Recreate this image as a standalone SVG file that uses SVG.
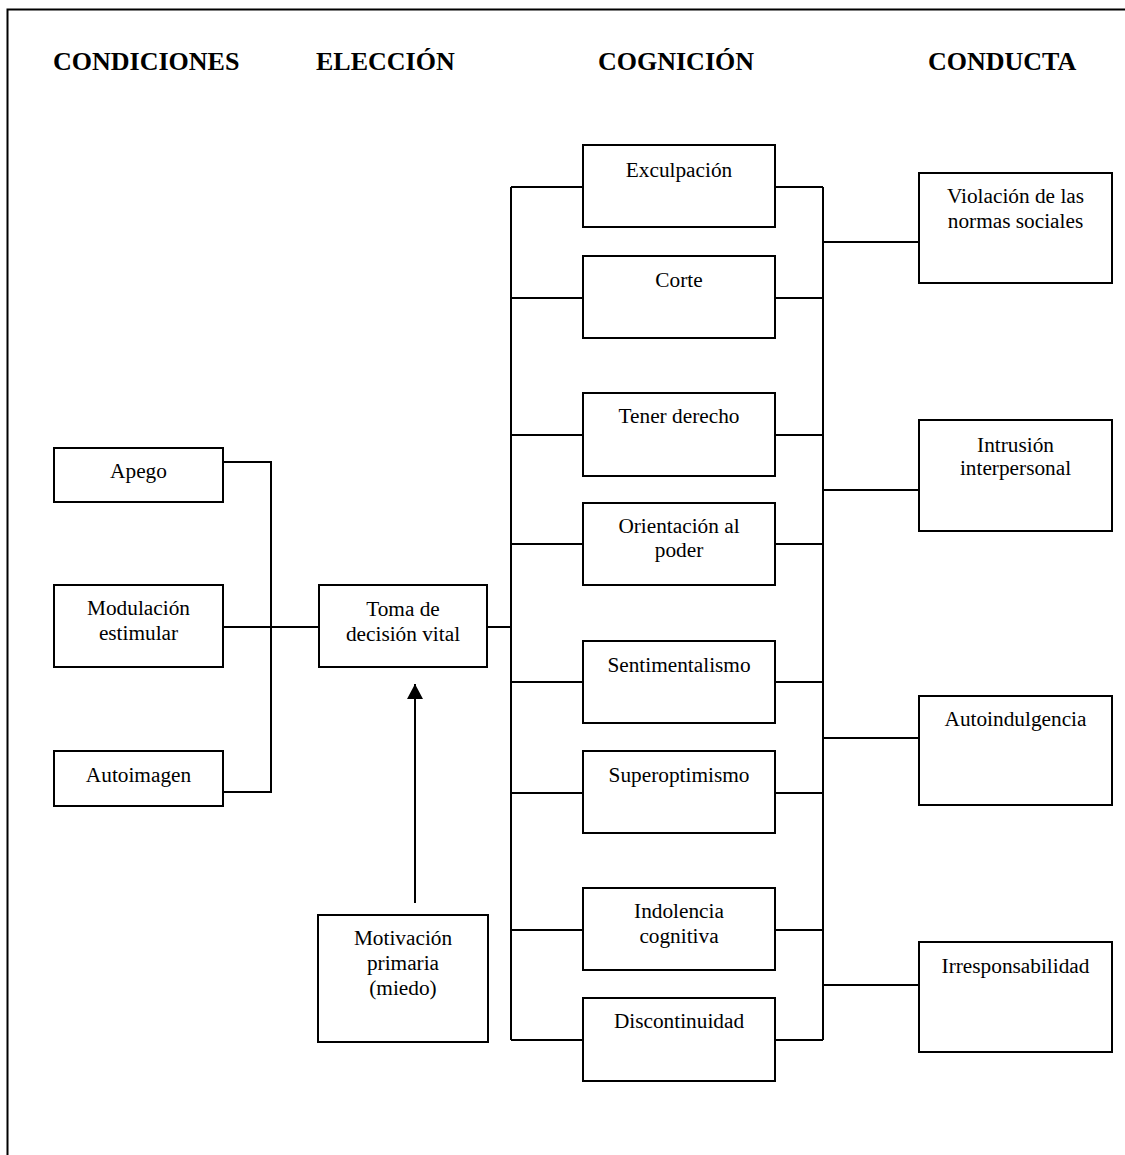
<svg xmlns="http://www.w3.org/2000/svg" width="1125" height="1155" viewBox="0 0 1125 1155">
<style>
.bg{fill:#fff}
.frame{fill:none;stroke:#000;stroke-width:2}
.box{fill:#fff;stroke:#000;stroke-width:2}
.ln{fill:none;stroke:#000;stroke-width:2}
.hd{font-family:"Liberation Serif","Times New Roman",serif;font-weight:bold;font-size:26px;fill:#000}
.t{font-family:"Liberation Serif","Times New Roman",serif;font-size:21.3px;fill:#000;text-anchor:middle}
</style>
<defs>
<marker id="ah" markerWidth="16" markerHeight="16" refX="15" refY="8" orient="auto" markerUnits="userSpaceOnUse">
<path d="M0,0 L15,8 L0,16 Z" fill="#000"/>
</marker>
</defs>
<rect class="bg" x="0" y="0" width="1125" height="1155"/>
<rect class="frame" x="7.5" y="9.5" width="1130" height="1160"/>
<g id="headers">
<text class="hd" x="53" y="70">CONDICIONES</text>
<text class="hd" x="316" y="70">ELECCIÓN</text>
<text class="hd" x="598" y="70">COGNICIÓN</text>
<text class="hd" x="928" y="70">CONDUCTA</text>
</g>
<g id="connectors">
<polyline class="ln" points="223,462 271,462 271,792 223,792"/>
<line class="ln" x1="223" y1="627" x2="319" y2="627"/>
<line class="ln" x1="487" y1="627" x2="511" y2="627"/>
<line class="ln" x1="415" y1="903" x2="415" y2="684" marker-end="url(#ah)"/>
<line class="ln" x1="511" y1="187" x2="511" y2="1040"/>
<line class="ln" x1="823" y1="187" x2="823" y2="1040"/>
<line class="ln" x1="511" y1="187" x2="583" y2="187"/>
<line class="ln" x1="511" y1="298" x2="583" y2="298"/>
<line class="ln" x1="511" y1="435" x2="583" y2="435"/>
<line class="ln" x1="511" y1="544" x2="583" y2="544"/>
<line class="ln" x1="511" y1="682" x2="583" y2="682"/>
<line class="ln" x1="511" y1="793" x2="583" y2="793"/>
<line class="ln" x1="511" y1="930" x2="583" y2="930"/>
<line class="ln" x1="511" y1="1040" x2="583" y2="1040"/>
<line class="ln" x1="775" y1="187" x2="823" y2="187"/>
<line class="ln" x1="775" y1="298" x2="823" y2="298"/>
<line class="ln" x1="775" y1="435" x2="823" y2="435"/>
<line class="ln" x1="775" y1="544" x2="823" y2="544"/>
<line class="ln" x1="775" y1="682" x2="823" y2="682"/>
<line class="ln" x1="775" y1="793" x2="823" y2="793"/>
<line class="ln" x1="775" y1="930" x2="823" y2="930"/>
<line class="ln" x1="775" y1="1040" x2="823" y2="1040"/>
<line class="ln" x1="823" y1="242" x2="919" y2="242"/>
<line class="ln" x1="823" y1="490" x2="919" y2="490"/>
<line class="ln" x1="823" y1="738" x2="919" y2="738"/>
<line class="ln" x1="823" y1="985" x2="919" y2="985"/>
</g>
<g id="apego"><rect class="box" x="54" y="448" width="169" height="54"/><text class="t" x="138.5" y="478">Apego</text></g>
<g id="modulacion"><rect class="box" x="54" y="585" width="169" height="82"/><text class="t" x="138.5" y="615">Modulación</text><text class="t" x="138.5" y="640">estimular</text></g>
<g id="autoimagen"><rect class="box" x="54" y="751" width="169" height="55"/><text class="t" x="138.5" y="782">Autoimagen</text></g>
<g id="toma"><rect class="box" x="319" y="585" width="168" height="82"/><text class="t" x="403" y="616">Toma de</text><text class="t" x="403" y="641">decisión vital</text></g>
<g id="motivacion"><rect class="box" x="318" y="915" width="170" height="127"/><text class="t" x="403" y="945">Motivación</text><text class="t" x="403" y="970">primaria</text><text class="t" x="403" y="995">(miedo)</text></g>
<g id="exculpacion"><rect class="box" x="583" y="145" width="192" height="82"/><text class="t" x="679" y="177">Exculpación</text></g>
<g id="corte"><rect class="box" x="583" y="256" width="192" height="82"/><text class="t" x="679" y="287">Corte</text></g>
<g id="tener"><rect class="box" x="583" y="393" width="192" height="83"/><text class="t" x="679" y="423">Tener derecho</text></g>
<g id="orientacion"><rect class="box" x="583" y="503" width="192" height="82"/><text class="t" x="679" y="533">Orientación al</text><text class="t" x="679" y="557">poder</text></g>
<g id="sentimentalismo"><rect class="box" x="583" y="641" width="192" height="82"/><text class="t" x="679" y="672">Sentimentalismo</text></g>
<g id="superoptimismo"><rect class="box" x="583" y="751" width="192" height="82"/><text class="t" x="679" y="782">Superoptimismo</text></g>
<g id="indolencia"><rect class="box" x="583" y="888" width="192" height="82"/><text class="t" x="679" y="918">Indolencia</text><text class="t" x="679" y="943">cognitiva</text></g>
<g id="discontinuidad"><rect class="box" x="583" y="998" width="192" height="83"/><text class="t" x="679" y="1028">Discontinuidad</text></g>
<g id="violacion"><rect class="box" x="919" y="173" width="193" height="110"/><text class="t" x="1015.5" y="203">Violación de las</text><text class="t" x="1015.5" y="228">normas sociales</text></g>
<g id="intrusion"><rect class="box" x="919" y="420" width="193" height="111"/><text class="t" x="1015.5" y="452">Intrusión</text><text class="t" x="1015.5" y="475">interpersonal</text></g>
<g id="autoindulgencia"><rect class="box" x="919" y="696" width="193" height="109"/><text class="t" x="1015.5" y="726">Autoindulgencia</text></g>
<g id="irresponsabilidad"><rect class="box" x="919" y="942" width="193" height="110"/><text class="t" x="1015.5" y="973">Irresponsabilidad</text></g>
</svg>
